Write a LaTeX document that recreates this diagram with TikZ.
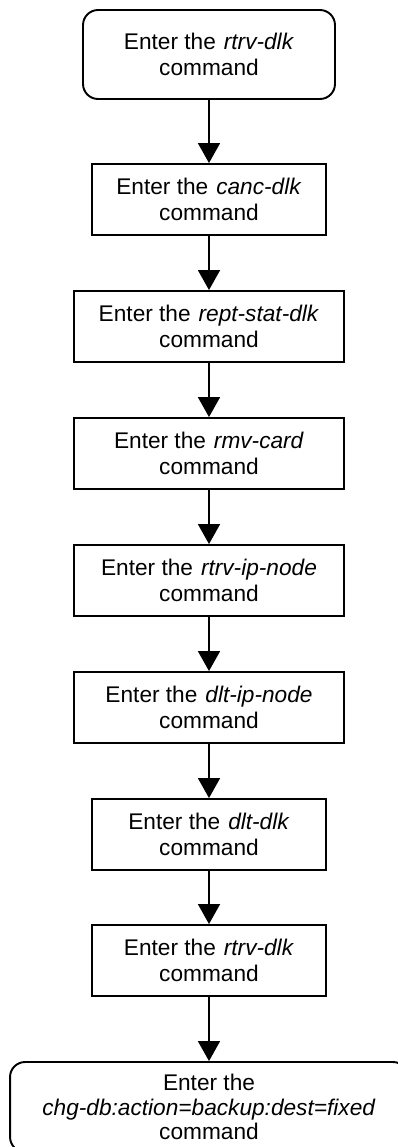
\documentclass[tikz,border=0pt]{standalone}
\usepackage{fontspec}
\setmainfont{Liberation Sans}
\usetikzlibrary{arrows.meta}

\begin{document}
\begin{tikzpicture}[x=0.02cm, y=-0.02cm,
    stepbox/.style={draw, line width=1.1pt, align=center, inner sep=0pt,
      font=\fontsize{12.9pt}{14.8pt}\selectfont},
    endbox/.style={stepbox, rounded corners=0.3cm},
    flow/.style={line width=0.95pt, -{Triangle[length=0.4cm, width=0.44cm]}}]
    \useasboundingbox (0,0) rectangle (398,1147);
    \clip (0,0) rectangle (398,1147);
    % steps, top to bottom
    \node[endbox, minimum width=5.04cm, minimum height=1.78cm] (rtrvdlk) at (209,54.5)
      {Enter the\hspace{0.35em}\textit{rtrv-dlk}\\command};
    \node[stepbox, minimum width=4.68cm, minimum height=1.42cm] (cancdlk) at (209,199.5)
      {Enter the\hspace{0.35em}\textit{canc-dlk}\\command};
    \node[stepbox, minimum width=5.4cm, minimum height=1.42cm] (reptstat) at (209,326.5)
      {Enter the\hspace{0.35em}\textit{rept-stat-dlk}\\command};
    \node[stepbox, minimum width=5.4cm, minimum height=1.42cm] (rmvcard) at (209,453.5)
      {Enter the\hspace{0.35em}\textit{rmv-card}\\command};
    \node[stepbox, minimum width=5.4cm, minimum height=1.42cm] (rtrvip) at (209,580.5)
      {Enter the\hspace{0.35em}\textit{rtrv-ip-node}\\command};
    \node[stepbox, minimum width=5.4cm, minimum height=1.42cm] (dltip) at (209,707.5)
      {Enter the\hspace{0.35em}\textit{dlt-ip-node}\\command};
    \node[stepbox, minimum width=4.68cm, minimum height=1.42cm] (dltdlk) at (209,834.5)
      {Enter the\hspace{0.35em}\textit{dlt-dlk}\\command};
    \node[stepbox, minimum width=4.68cm, minimum height=1.42cm] (rtrvdlkb) at (209,960.5)
      {Enter the\hspace{0.35em}\textit{rtrv-dlk}\\command};
    \node[endbox, minimum width=7.96cm, minimum height=1.8cm,
      font=\fontsize{12.9pt}{14pt}\selectfont] (chgdb) at (209,1107)
      {Enter the\\\textit{chg-db:action=backup:dest=fixed}\\command};
    % arrows
    \draw[flow] (rtrvdlk) -- (cancdlk);
    \draw[flow] (cancdlk) -- (reptstat);
    \draw[flow] (reptstat) -- (rmvcard);
    \draw[flow] (rmvcard) -- (rtrvip);
    \draw[flow] (rtrvip) -- (dltip);
    \draw[flow] (dltip) -- (dltdlk);
    \draw[flow] (dltdlk) -- (rtrvdlkb);
    \draw[flow] (rtrvdlkb) -- (chgdb);
\end{tikzpicture}
\end{document}
